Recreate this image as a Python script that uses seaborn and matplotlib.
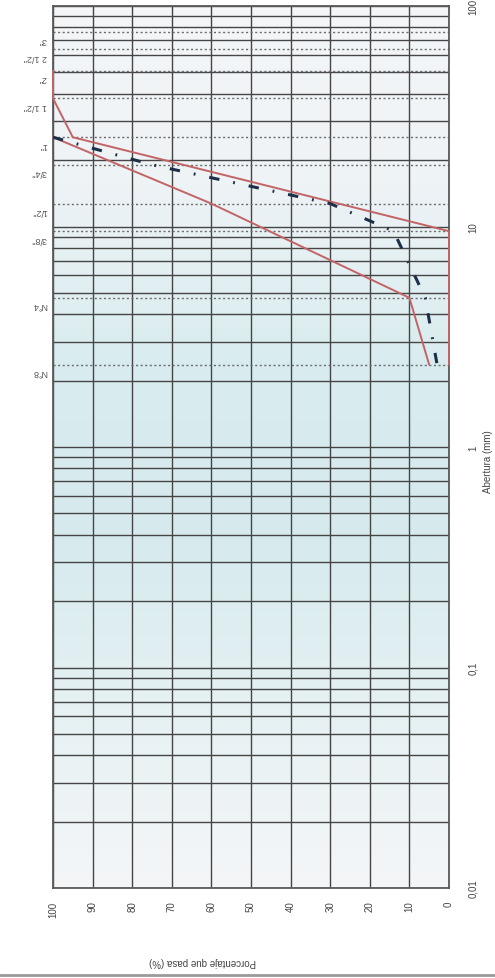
import numpy as np
import matplotlib
matplotlib.use("Agg")
import matplotlib.pyplot as plt
import matplotlib.transforms as mtrans
from matplotlib.ticker import LogLocator, FixedLocator, NullFormatter
from matplotlib.colors import LinearSegmentedColormap
from matplotlib.lines import Line2D
import seaborn as sns

# sieve openings (mm) and their names
sieve_labels = ['3"', '2 1/2"', '2"', '1 1/2"', '1"', '3/4"', '1/2"', '3/8"', 'N°4', 'N°8']
sieve_mm = [76.2, 63.5, 50.8, 38.1, 25.4, 19.05, 12.7, 9.525, 4.75, 2.36]

# grading limits
upper_mm = [25.4, 12.7, 4.75, 2.36]
upper_pct = [100, 60, 10, 5]
lower_mm = [50.8, 38.1, 25.4, 9.525, 4.75, 2.36]
lower_pct = [100, 100, 95, 0, 0, 0]

# sample curve
sample_mm = [25.4, 19.05, 12.7, 9.525, 4.75, 2.36]
sample_pct = [100, 75, 30, 14, 6, 3]

size_ticks = [0.01, 0.1, 1, 10, 100]
size_tick_labels = ["0,01", "0,1", "1", "10", "100"]
pct_ticks = [100, 90, 80, 70, 60, 50, 40, 30, 20, 10, 0]

sns.set_style("white")
plt.rcParams['font.family'] = ['Liberation Sans', 'DejaVu Sans']

W, H = 495, 979
fig = plt.figure(figsize=(W / 100, H / 100), dpi=100)
ax = fig.add_axes([53 / W, 1 - 889 / H, 396 / W, 882 / H])

# faint bluish tint of the scanned sheet
cmap = LinearSegmentedColormap.from_list(
    "sheet", ["#f4f6f8", "#eef3f6", "#d9ecef", "#d6eaee", "#e6f1f3", "#f4f6f8"])
grad = np.linspace(0, 1, 256).reshape(-1, 1)
ax.imshow(grad, extent=[0, 1, 0, 1], transform=ax.transAxes, aspect="auto",
          cmap=cmap, origin="upper", zorder=0)

ax.set_yscale("log")
ax.set_ylim(0.01, 100)
ax.set_xlim(100, 0)

# log grid
ax.yaxis.set_major_locator(FixedLocator(size_ticks))
ax.yaxis.set_minor_locator(LogLocator(base=10, subs=np.arange(2, 10)))
ax.yaxis.set_minor_formatter(NullFormatter())
ax.set_yticklabels(size_tick_labels)
ax.set_xticks(pct_ticks)
ax.grid(which="both", axis="y", color="#454545", lw=1.0)
ax.grid(which="major", axis="x", color="#454545", lw=1.0)
ax.set_axisbelow(True)

# dotted lines at the sieves
for s in sieve_mm:
    ax.axhline(s, color="#6c6c6c", lw=1.0, ls=(0, (1.5, 1.8)), zorder=1)

lab_tr = mtrans.offset_copy(
    mtrans.blended_transform_factory(ax.transAxes, ax.transData),
    fig=fig, x=-6, y=-7, units="dots")
for lab, s in zip(sieve_labels, sieve_mm):
    ax.text(0, s, lab, transform=lab_tr, rotation=180, ha="right", va="center",
            fontsize=6.5, color="#555555")

red = "#c26466"
sns.lineplot(x=upper_pct, y=upper_mm, sort=False, estimator=None, ax=ax,
             color=red, lw=1.4, zorder=3, clip_on=False)
sns.lineplot(x=lower_pct, y=lower_mm, sort=False, estimator=None, ax=ax,
             color=red, lw=1.4, zorder=3, clip_on=False)
sns.lineplot(x=sample_pct, y=sample_mm, sort=False, estimator=None, ax=ax,
             color="#1e3048", lw=2.2, linestyle=(0, (3.4, 4.6, 0.6, 4.6)), zorder=4)

ax.yaxis.tick_right()
ax.tick_params(axis="y", which="both", length=0, pad=14, labelsize=7,
               labelcolor="#444444", labelrotation=90)
ax.tick_params(axis="x", length=0, pad=9, labelsize=7, labelcolor="#444444",
               labelrotation=90)
for t in ax.get_yticklabels():
    t.set_va("center")

for sp in ax.spines.values():
    sp.set_color("#5a5a5a")
    sp.set_linewidth(1.3)

fig.text(203 / W, 1 - 962 / H, "Porcentaje que pasa (%)", rotation=180,
         ha="center", va="center", fontsize=7, color="#444444")
fig.text(488 / W, 1 - 462 / H, "Abertura (mm)", rotation=90,
         ha="center", va="center", fontsize=7, color="#444444")

# scanner edge at the bottom
fig.add_artist(Line2D([0, 1], [1 - 976 / H, 1 - 976 / H], transform=fig.transFigure,
                      color="#9a9a9a", lw=2))

fig.savefig("out.png", dpi=100)
